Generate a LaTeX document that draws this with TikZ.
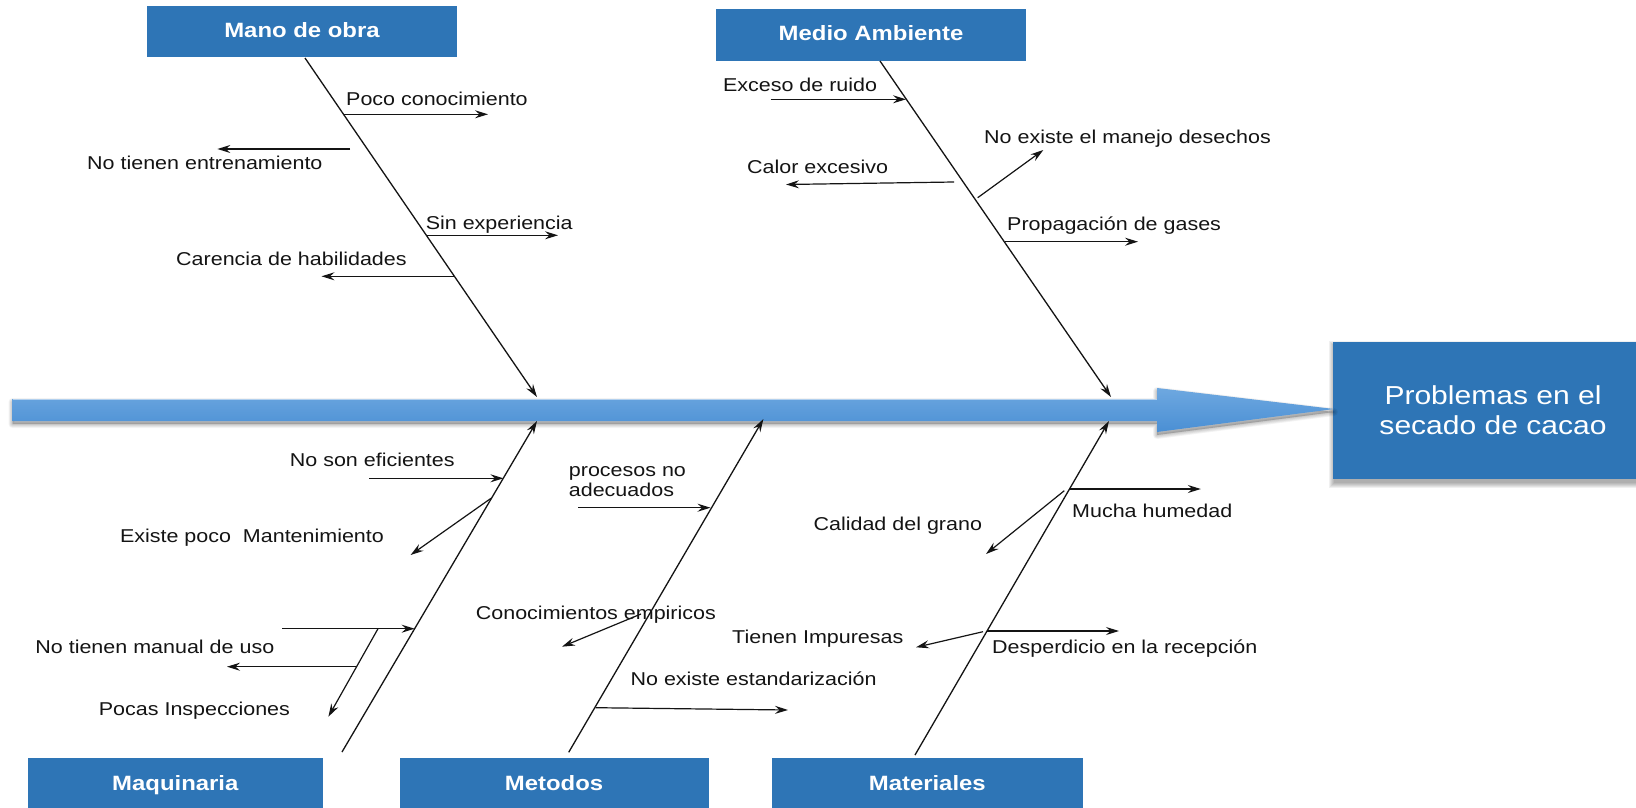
\documentclass[tikz,border=0pt]{standalone}
\usepackage{fontspec}
\setmainfont{Liberation Sans}[FakeStretch=1.155]
\usetikzlibrary{arrows.meta,calc}
\definecolor{boxblue}{RGB}{46,117,182}
\definecolor{spinetop}{RGB}{110,168,224}
\definecolor{spinebot}{RGB}{74,143,212}
\definecolor{ink}{RGB}{20,20,20}
\begin{document}
\begin{tikzpicture}[x=1pt,y=-1pt,
  catbox/.style={fill=boxblue, text=white, inner sep=0pt,
    font=\fontsize{20.7}{24}\selectfont\bfseries, text height=15pt, text depth=4.3pt},
  effbox/.style={fill=boxblue, text=white, inner sep=0pt, align=center,
    font=\fontsize{26}{30}\selectfont},
  lbl/.style={anchor=base west, inner sep=0pt, text=ink, font=\fontsize{18.6}{22}\selectfont},
  tip/.style={-{Stealth[length=13pt,width=8pt,inset=4.5pt]}},
  bone/.style={draw=ink, line width=1.3pt, tip},
  subarrow/.style={draw=ink, line width=1.2pt, tip},
  plainline/.style={draw=ink, line width=1.2pt}
]
\useasboundingbox (0,0) rectangle (1636,808);
\fill[white] (0,0) rectangle (1636,808);

% ---------- effect box shadow + box ----------
\foreach \s in {0,1,...,5}{
  \fill[black,opacity=0.06] (1334-\s,346-\s) rectangle (1660+\s,483+\s);
}
\node[effbox, minimum width=320pt, minimum height=137pt] (effect) at (1493,410.5)
  {Problemas en el\\secado de cacao};

% ---------- spine ----------
\def\spinepathA{(12.5,399) -- (1157,399) -- (1157,388) -- (1334,409) -- (1157,432) -- (1157,421) -- (12.5,421) -- cycle}
\foreach \s in {1,2,...,5}{
  \begin{scope}[yshift=-3pt]
    \path[fill=black, draw=black, line width=\s*1.6pt, line join=round, opacity=0.045] \spinepathA;
  \end{scope}
}
\shade[top color=spinetop, bottom color=spinebot] \spinepathA;
\draw[white, opacity=0.5, line width=0.8pt] (12.5,399.5) -- (1157,399.5);
\coordinate (spineL) at (12.5,410);
\coordinate (spineR) at (1334,409);

% ---------- category boxes ----------
\node[catbox, minimum width=310pt, minimum height=51.5pt] (mano) at (302,31.75) {Mano de obra};
\node[catbox, minimum width=310pt, minimum height=52pt] (medio) at (871,35) {Medio Ambiente};
\node[catbox, minimum width=294.6pt, minimum height=55pt] (maq) at (175.3,785.5) {Maquinaria};
\node[catbox, minimum width=309pt, minimum height=55pt] (met) at (554,785.5) {Metodos};
\node[catbox, minimum width=310.6pt, minimum height=55pt] (mat) at (927.3,785.5) {Materiales};

% ---------- Mano de obra ----------
\coordinate (manoA) at (305,58);
\coordinate (manoB) at (537,397);
\draw[bone] (manoA) -- (manoB);
\coordinate (m1a) at (343.5,114.3); \coordinate (m1b) at (488,114.3);
\draw[subarrow] (m1a) -- (m1b);
\node[lbl] (m1t) at (346,106) {Poco conocimiento};
\coordinate (m2a) at (350,149); \coordinate (m2b) at (217.4,149);
\draw[subarrow] (m2a) -- (m2b);
\node[lbl] (m2t) at (87,169) {No tienen entrenamiento};
\coordinate (m3a) at (426.5,235.3); \coordinate (m3b) at (558,235.3);
\draw[subarrow] (m3a) -- (m3b);
\node[lbl] (m3t) at (425.6,229) {Sin experiencia};
\coordinate (m4a) at (453.5,276.3); \coordinate (m4b) at (321.5,276.3);
\draw[subarrow] (m4a) -- (m4b);
\node[lbl] (m4t) at (176,265) {Carencia de habilidades};

% ---------- Medio Ambiente ----------
\coordinate (medA) at (880,61);
\coordinate (medB) at (1111,397);
\draw[bone] (medA) -- (medB);
\coordinate (e1a) at (770.5,99.3); \coordinate (e1b) at (906,99.3);
\draw[subarrow] (e1a) -- (e1b);
\node[lbl] (e1t) at (722.8,91.7) {Exceso de ruido};
\coordinate (e2a) at (977.7,197.7); \coordinate (e2b) at (1043.3,150);
\draw[subarrow] (e2a) -- (e2b);
\node[lbl] (e2t) at (984,143.3) {No existe el manejo desechos};
\coordinate (e3a) at (954,182); \coordinate (e3b) at (786,184.5);
\draw[subarrow] (e3a) -- (e3b);
\node[lbl] (e3t) at (747,173) {Calor excesivo};
\coordinate (e4a) at (1005,241.7); \coordinate (e4b) at (1138,241.7);
\draw[subarrow] (e4a) -- (e4b);
\node[lbl] (e4t) at (1007,230.7) {Propagación de gases};

% ---------- Maquinaria ----------
\coordinate (maqA) at (342,752);
\coordinate (maqB) at (537,421);
\draw[bone] (maqA) -- (maqB);
\coordinate (q1a) at (369.3,478.3); \coordinate (q1b) at (503.4,478.3);
\draw[subarrow] (q1a) -- (q1b);
\node[lbl] (q1t) at (289.7,466.7) {No son eficientes};
\coordinate (q2a) at (491,498.3); \coordinate (q2b) at (410.6,555);
\draw[subarrow] (q2a) -- (q2b);
\node[lbl] (q2t) at (119.8,542.7) {Existe poco~ Mantenimiento};
\coordinate (q3a) at (282,628.7); \coordinate (q3b) at (414.6,628.7);
\draw[subarrow] (q3a) -- (q3b);
\node[lbl] (q3t) at (35.2,653.3) {No tienen manual de uso};
\coordinate (q4a) at (378,628.7); \coordinate (q4b) at (328.4,716.7);
\draw[subarrow] (q4a) -- (q4b);
\coordinate (q5a) at (357,666.7); \coordinate (q5b) at (227,666.7);
\draw[subarrow] (q5a) -- (q5b);
\node[lbl] (q4t) at (98.7,715) {Pocas Inspecciones};

% ---------- Metodos ----------
\coordinate (metA) at (568.7,752.3);
\coordinate (metB) at (763.4,419);
\draw[bone] (metA) -- (metB);
\coordinate (t1a) at (578,507.7); \coordinate (t1b) at (710.5,507.7);
\draw[subarrow] (t1a) -- (t1b);
\node[lbl] (t1t) at (568.7,476) {procesos no};
\node[lbl] (t1u) at (568.7,496.7) {adecuados};
\coordinate (t2a) at (641,614); \coordinate (t2b) at (562,646.7);
\node[lbl] (t2t) at (475.7,619) {Conocimientos empiricos};
\draw[subarrow] (t2a) -- (t2b);
\coordinate (t3a) at (595.5,707.7); \coordinate (t3b) at (788,710);
\draw[subarrow] (t3a) -- (t3b);
\node[lbl] (t3t) at (630.4,685) {No existe estandarización};

% ---------- Materiales ----------
\coordinate (matA) at (915,755);
\coordinate (matB) at (1109,421);
\draw[bone] (matA) -- (matB);
\coordinate (r1a) at (1069,489); \coordinate (r1b) at (1200.8,489);
\draw[subarrow] (r1a) -- (r1b);
\node[lbl] (r1t) at (1072,517.3) {Mucha humedad};
\coordinate (r2a) at (1064.3,490.7); \coordinate (r2b) at (986,554);
\draw[subarrow] (r2a) -- (r2b);
\node[lbl] (r2t) at (813.4,530) {Calidad del grano};
\coordinate (r3a) at (986.6,631); \coordinate (r3b) at (1119,631);
\draw[subarrow] (r3a) -- (r3b);
\node[lbl] (r3t) at (992,653.3) {Desperdicio en la recepción};
\coordinate (r4a) at (983,631.7); \coordinate (r4b) at (916,647.3);
\draw[subarrow] (r4a) -- (r4b);
\node[lbl] (r4t) at (732,643.3) {Tienen Impuresas};
\end{tikzpicture}
\end{document}
